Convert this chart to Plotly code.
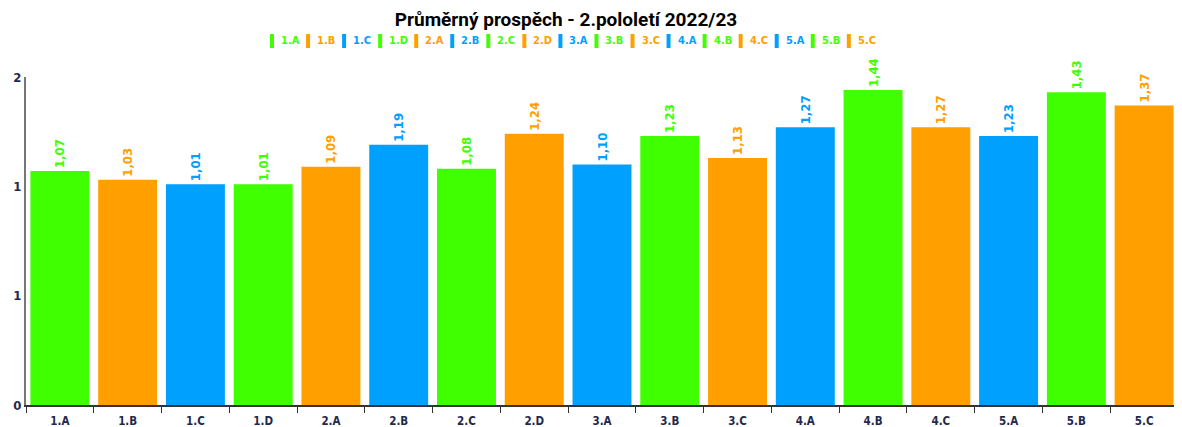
import plotly.graph_objects as go

categories = ["1.A", "1.B", "1.C", "1.D", "2.A", "2.B", "2.C", "2.D", "3.A",
              "3.B", "3.C", "4.A", "4.B", "4.C", "5.A", "5.B", "5.C"]
values = [1.07, 1.03, 1.01, 1.01, 1.09, 1.19, 1.08, 1.24, 1.10,
          1.23, 1.13, 1.27, 1.44, 1.27, 1.23, 1.43, 1.37]
# colour group of each class: g = green, o = orange, b = blue
groups = ["g", "o", "b", "g", "o", "b", "g", "o", "b",
          "g", "o", "b", "g", "o", "b", "g", "o"]
y_tick_vals = [0, 0.5, 1.0, 1.5]
y_tick_text = ["0", "1", "1", "2"]

palette = {"g": "#40FF00", "o": "#FF9F00", "b": "#00A0FF"}
colors = [palette[g] for g in groups]
labels = [f"{v:.2f}".replace(".", ",") for v in values]

OFF = 8  # page body margin of the html page
W, H = 1182 - OFF, 427 - OFF
ML, MR, MT, MB = 26 - OFF, 4, 77 - OFF, 22
PW, PH = W - ML - MR, H - MT - MB
FONT = "DejaVu Sans Condensed, DejaVu Sans"

fig = go.Figure()
fig.add_trace(go.Bar(
    x=categories, y=values, marker=dict(color=colors, line=dict(width=0)),
    text=labels, textposition="outside", textangle=-90,
    textfont=dict(color=colors, size=13, family=FONT, weight="bold"),
    cliponaxis=False, showlegend=False, hoverinfo="x+y",
))

# custom legend (compact, coloured entries)
shapes = []
annotations = []
x0 = 270 - OFF
ymid = 41 - OFF
step = 36.05
for i, (cat, c) in enumerate(zip(categories, colors)):
    px = x0 + i * step
    shapes.append(dict(type="rect", xref="paper", yref="paper",
                       x0=(px - ML) / PW, x1=(px + 4 - ML) / PW,
                       y0=(H - MB - (ymid + 7)) / PH, y1=(H - MB - (ymid - 7)) / PH,
                       fillcolor=c, line=dict(width=0)))
    annotations.append(dict(xref="paper", yref="paper", x=(px + 9 - ML) / PW,
                            y=(H - MB - ymid) / PH, xanchor="left", yanchor="middle",
                            text=cat, showarrow=False,
                            font=dict(color=c, size=11, family=FONT, weight="bold")))

fig.update_layout(
    width=W, height=H,
    margin=dict(l=ML, r=MR, t=MT, b=MB, autoexpand=False),
    paper_bgcolor="white", plot_bgcolor="white",
    title=dict(text="<b>Průměrný prospěch - 2.pololetí 2022/23</b>",
               x=(566 - OFF) / W, xanchor="center", y=1 - (19 - OFF) / H, yanchor="middle",
               font=dict(size=19, color="#000000", family="Roboto, Liberation Sans, Arial")),
    bargap=0.13,
    shapes=shapes,
    annotations=annotations,
    xaxis=dict(type="category", showline=True, linecolor="#333333", linewidth=1.5,
               ticks="outside", tickson="boundaries", ticklen=6, tickcolor="#333333",
               ticklabelstandoff=4,
               tickfont=dict(size=11.5, color="#1F2A4D", family=FONT, weight="bold"),
               showgrid=False, zeroline=False, automargin=False),
    yaxis=dict(range=[0, 1.5], showline=True, linecolor="#777777", linewidth=2,
               tickvals=y_tick_vals, ticktext=y_tick_text, ticks="",
               tickfont=dict(size=13, color="#1F2A4D", family=FONT, weight="bold"),
               showgrid=False, zeroline=False, automargin=False),
    font=dict(family=FONT),
)

fig.write_html("out.html")
